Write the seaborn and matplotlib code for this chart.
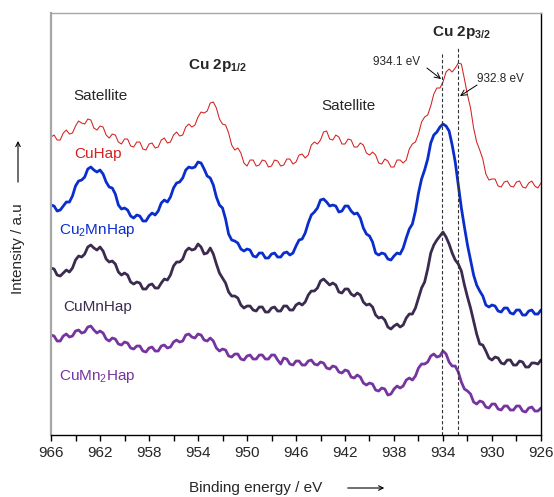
import matplotlib
matplotlib.use("Agg")
import matplotlib.pyplot as plt
from matplotlib.patches import FancyArrowPatch
from matplotlib.ticker import FixedLocator
import pandas as pd
import seaborn as sns

# Binding energy grid (eV), 966 -> 926 in 0.25 eV steps
energy = [966 - 0.25 * i for i in range(161)]

# Offset XPS Cu 2p spectra (intensity, a.u.)
cuhap = [298, 300, 295, 295, 302, 305, 301, 302, 309, 314, 312, 311, 316, 315,
         307, 305, 309, 308, 300, 297, 301, 300, 293, 291, 296, 296, 289, 288,
         293, 293, 286, 285, 291, 292, 287, 288, 295, 297, 292, 293, 300, 303,
         299, 300, 308, 311, 308, 310, 318, 323, 322, 324, 332, 333, 327, 316,
         311, 310, 302, 290, 285, 287, 282, 272, 269, 275, 275, 269, 270, 275,
         274, 268, 269, 275, 274, 269, 270, 276, 276, 271, 273, 280, 281, 277,
         280, 290, 293, 291, 295, 303, 304, 296, 295, 300, 298, 291, 291, 296,
         295, 288, 288, 292, 290, 282, 280, 283, 280, 272, 271, 276, 274, 268,
         268, 275, 275, 272, 275, 286, 291, 293, 301, 313, 318, 320, 329, 341,
         347, 347, 353, 363, 366, 363, 367, 372, 371, 356, 340, 327, 307, 293,
         285, 276, 261, 255, 256, 256, 249, 248, 253, 254, 249, 248, 253, 254,
         248, 247, 252, 254, 249, 247, 252]
cu2mnhap = [230, 229, 224, 225, 229, 233, 233, 239, 249, 254, 255, 258, 266, 268,
            265, 263, 265, 261, 253, 248, 247, 241, 230, 226, 227, 225, 219, 217,
            220, 219, 214, 214, 219, 222, 220, 224, 232, 235, 233, 238, 247, 252,
            253, 257, 265, 268, 267, 268, 273, 272, 266, 259, 257, 250, 238, 230,
            227, 216, 201, 195, 194, 192, 186, 184, 186, 185, 179, 178, 182, 182,
            177, 177, 181, 182, 178, 178, 182, 183, 180, 182, 189, 195, 196, 202,
            212, 220, 223, 227, 235, 236, 233, 229, 230, 229, 223, 224, 229, 229,
            224, 221, 222, 217, 207, 201, 199, 193, 182, 180, 182, 181, 176, 175,
            179, 182, 181, 187, 197, 206, 211, 224, 242, 256, 265, 276, 292, 300,
            303, 308, 311, 309, 304, 290, 273, 250, 227, 208, 190, 175, 160, 150,
            144, 139, 130, 128, 130, 129, 124, 123, 127, 127, 122, 121, 125, 125,
            120, 120, 124, 125, 121, 121, 125]
cumnhap = [167, 166, 160, 159, 162, 165, 163, 167, 175, 179, 178, 181, 188, 190,
           187, 185, 188, 184, 176, 173, 174, 171, 163, 160, 162, 160, 153, 151,
           153, 152, 146, 146, 150, 151, 147, 147, 152, 156, 155, 160, 169, 173,
           173, 176, 184, 187, 185, 186, 191, 188, 181, 182, 187, 181, 171, 162,
           157, 152, 143, 139, 139, 137, 130, 127, 129, 129, 125, 124, 128, 128,
           123, 123, 127, 128, 124, 124, 129, 129, 125, 125, 130, 132, 130, 133,
           140, 144, 144, 147, 154, 156, 153, 150, 152, 150, 143, 142, 146, 146,
           141, 139, 142, 140, 133, 130, 131, 128, 120, 117, 118, 115, 108, 106,
           109, 111, 108, 110, 117, 121, 121, 127, 137, 147, 153, 166, 182, 190,
           195, 199, 203, 198, 191, 182, 175, 171, 164, 150, 138, 127, 114, 101,
           91, 90, 84, 77, 75, 78, 77, 72, 71, 75, 75, 70, 70, 74, 73, 68, 68, 72,
           72, 71, 75]
cumn2hap = [100, 99, 94, 94, 99, 101, 98, 99, 104, 105, 102, 103, 108, 109,
            105, 102, 104, 102, 96, 94, 97, 96, 91, 90, 93, 92, 87, 86, 89, 89,
            84, 83, 87, 88, 84, 84, 89, 90, 87, 88, 93, 95, 93, 94, 100, 101, 98,
            97, 101, 100, 95, 94, 97, 94, 87, 84, 86, 85, 79, 78, 81, 81, 76, 75,
            79, 80, 76, 76, 80, 80, 76, 76, 80, 80, 75, 71, 77, 76, 71, 70, 74,
            74, 70, 70, 74, 75, 71, 70, 73, 72, 67, 66, 69, 68, 63, 62, 65, 64,
            58, 57, 60, 58, 52, 50, 52, 51, 45, 44, 47, 46, 40, 41, 46, 49, 47,
            49, 55, 57, 55, 59, 67, 71, 71, 73, 79, 81, 78, 79, 84, 81, 73, 69,
            69, 63, 53, 46, 44, 41, 33, 31, 34, 33, 28, 27, 31, 31, 26, 25, 29,
            29, 25, 25, 29, 29, 24, 23, 27, 28, 24, 24, 27]

samples = ["CuHap", "Cu2MnHap", "CuMnHap", "CuMn2Hap"]
sample_labels = ["CuHap", "Cu$_2$MnHap", "CuMnHap", "CuMn$_2$Hap"]
colors = ["#D42020", "#0A2ECC", "#3B2B4F", "#7634A0"]
widths = [0.75, 2.0, 2.0, 2.0]

# Axis ticks
tick_values = [966, 962, 958, 954, 950, 946, 942, 938, 934, 930, 926]
minor_tick_values = [964, 960, 956, 952, 948, 944, 940, 936, 932, 928]

# Reference peak positions
peak_positions = [934.1, 932.8]

df = pd.DataFrame({
    "energy": energy * 4,
    "intensity": cuhap + cu2mnhap + cumnhap + cumn2hap,
    "sample": [s for s in samples for _ in energy],
})

sns.set_style("white")
plt.rcParams["font.family"] = ["Liberation Sans", "DejaVu Sans"]
plt.rcParams["mathtext.fontset"] = "custom"
plt.rcParams["mathtext.rm"] = "Liberation Sans"
plt.rcParams["mathtext.it"] = "Liberation Sans:italic"
plt.rcParams["mathtext.bf"] = "Liberation Sans:bold"

fig = plt.figure(figsize=(5.54, 4.97), dpi=100)
ax = fig.add_axes([0.0921, 0.1247, 0.8844, 0.8491])

for s, c, w in zip(samples, colors, widths):
    sns.lineplot(data=df[df["sample"] == s], x="energy", y="intensity",
                 color=c, linewidth=w, ax=ax, legend=False)

ax.set_xlim(966, 926)
ax.set_ylim(0, 422)
ax.xaxis.set_major_locator(FixedLocator(tick_values))
ax.xaxis.set_minor_locator(FixedLocator(minor_tick_values))
ax.set_xticklabels([str(t) for t in tick_values])
ax.set_yticks([])
ax.set_xlabel("")
ax.set_ylabel("")
ax.tick_params(axis="x", which="both", direction="out", length=4, width=1,
               color="black", bottom=True, labelsize=11, pad=4)

for side in ["left", "top"]:
    ax.spines[side].set_color("#A6A6A6")
ax.spines["left"].set_linewidth(1.6)
ax.spines["top"].set_linewidth(1.0)
for side in ["right", "bottom"]:
    ax.spines[side].set_color("black")
    ax.spines[side].set_linewidth(1.0)

# Dashed markers at the Cu 2p3/2 components
ax.vlines(peak_positions[0], 0, 383, colors="#333333", linestyles=(0, (3, 2)),
          linewidth=0.8)
ax.vlines(peak_positions[1], 0, 387, colors="#333333", linestyles=(0, (3, 2)),
          linewidth=0.8)

# Sample names
label_y = [281, 205, 128, 59]
for lab, c, y in zip(sample_labels, colors, label_y):
    ax.text(962.2, y, lab, color=c, fontsize=11, ha="center", va="center")

# Peak region annotations
ax.text(962.0, 339, "Satellite", fontsize=11, ha="center", va="center")
ax.text(941.7, 329, "Satellite", fontsize=11, ha="center", va="center")
ax.text(952.45, 370, r"Cu 2p$_{\mathbf{1/2}}$", fontsize=11,
        fontweight="bold", ha="center", va="center")
ax.text(932.53, 403, r"Cu 2p$_{\mathbf{3/2}}$", fontsize=11,
        fontweight="bold", ha="center", va="center")

ax.text(937.76, 373, f"{peak_positions[0]} eV", fontsize=8.5,
        ha="center", va="center")
ax.text(929.35, 356, f"{peak_positions[1]} eV", fontsize=8.5,
        ha="center", va="center")
ax.annotate("", xy=(934.16, 356), xytext=(935.31, 367),
            arrowprops=dict(arrowstyle="->", color="black", lw=0.7,
                            shrinkA=0, shrinkB=0))
ax.annotate("", xy=(932.61, 339), xytext=(931.22, 350),
            arrowprops=dict(arrowstyle="->", color="black", lw=0.7,
                            shrinkA=0, shrinkB=0))

# Axis titles with direction arrows
fig.text(0.0325, 0.499, "Intensity / a.u", rotation=90, fontsize=11,
         ha="center", va="center")
fig.patches.append(FancyArrowPatch(
    (0.0325, 0.628), (0.0325, 0.722), transform=fig.transFigure,
    arrowstyle="->", mutation_scale=8, lw=0.8, color="black"))
fig.text(0.461, 0.018, "Binding energy / eV", fontsize=11,
         ha="center", va="center")
fig.patches.append(FancyArrowPatch(
    (0.6227, 0.0181), (0.6986, 0.0181), transform=fig.transFigure,
    arrowstyle="->", mutation_scale=8, lw=0.8, color="black"))

fig.savefig("out.png", dpi=100)
